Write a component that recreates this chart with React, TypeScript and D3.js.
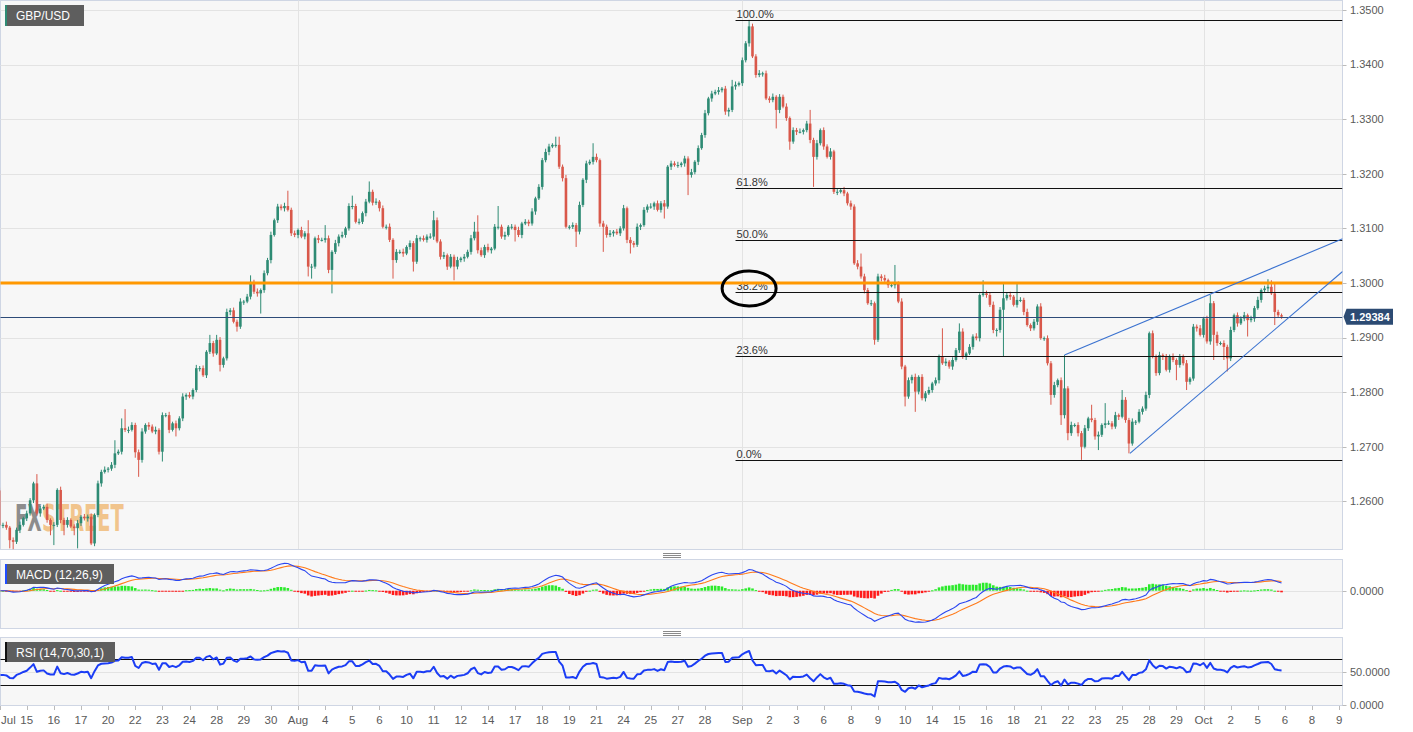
import React from "react";
import * as d3 from "d3";

// ---- price data (4H candles), values in pips: price = 1 + v / 10000 ----
const firstOpenPips = 2620;
const closePips = [
  2556,2557,2552,2529,2526,2548,2557,2569,2578,2602,
  2633,2578,2587,2590,2566,2557,2557,2621,2566,2557,
  2566,2554,2551,2560,2572,2569,2572,2523,2575,2633,
  2654,2658,2660,2667,2688,2691,2734,2731,2731,2740,
  2690,2676,2728,2740,2737,2728,2731,2691,2758,2758,
  2731,2743,2734,2752,2792,2795,2792,2804,2844,2844,
  2831,2874,2890,2871,2896,2850,2862,2947,2950,2929,
  2920,2966,2966,2975,3002,2984,2981,2987,3018,3042,
  3088,3115,3140,3137,3141,3134,3091,3088,3097,3085,
  3091,3030,3030,3082,3079,3079,3082,3024,3057,3073,
  3085,3088,3100,3141,3141,3112,3112,3128,3149,3167,
  3147,3149,3137,3103,3103,3079,3042,3057,3057,3054,
  3066,3073,3039,3082,3082,3079,3085,3085,3115,3076,
  3048,3051,3030,3048,3030,3042,3045,3048,3057,3082,
  3094,3060,3051,3066,3060,3063,3103,3103,3085,3088,
  3103,3103,3097,3088,3109,3112,3109,3131,3155,3176,
  3225,3240,3250,3253,3253,3213,3192,3103,3103,3106,
  3094,3143,3189,3219,3222,3231,3225,3109,3103,3088,
  3091,3094,3091,3100,3137,3079,3073,3070,3103,3106,
  3134,3140,3140,3146,3134,3146,3140,3213,3219,3216,
  3216,3219,3228,3198,3203,3222,3247,3271,3311,3338,
  3347,3350,3353,3356,3314,3317,3360,3363,3366,3408,
  3439,3470,3415,3381,3384,3384,3338,3335,3341,3317,
  3341,3323,3302,3259,3280,3277,3277,3280,3292,3262,
  3231,3256,3280,3250,3231,3241,3167,3167,3170,3164,
  3146,3140,3036,3030,3012,2987,2963,2963,2896,3012,
  3009,3005,2996,2996,2999,2966,2847,2792,2822,2828,
  2801,2828,2789,2798,2804,2816,2822,2865,2853,2856,
  2847,2859,2877,2911,2865,2871,2883,2902,2899,2978,
  2981,2978,2960,2914,2914,2951,2972,2978,2975,2960,
  2969,2969,2947,2923,2917,2929,2957,2899,2899,2853,
  2795,2813,2822,2758,2807,2725,2740,2740,2725,2700,
  2734,2752,2749,2719,2722,2740,2743,2743,2737,2758,
  2755,2786,2749,2706,2746,2746,2764,2770,2795,2908,
  2865,2835,2868,2865,2841,2865,2859,2850,2865,2853,
  2819,2825,2920,2917,2905,2935,2893,2963,2905,2890,
  2890,2883,2862,2914,2941,2926,2935,2941,2932,2935,
  2954,2969,2987,2990,2993,2981,2947,2941,2938.4,
];
const wickUpPips = [
  5,4,6,3,5,4,6,3,5,4, 3,17,5,4,6,3,5,3,6,4, 5,3,4,6,3,5,4,6,3,5, 4,6,3,5,24,4,18,35,6,5,
  4,5,6,3,5,4,6,3,5,4, 6,3,5,4,6,3,5,3,6,4, 5,3,15,4,9,5,3,6,4,5, 4,6,3,5,12,4,6,3,5,4,
  6,3,5,4,6,28,4,5,3,6, 4,24,5,3,6,4,24,5,3,6, 4,6,3,5,19,4,6,3,5,19, 4,6,3,5,4,6,3,5,4,6,
  3,5,4,6,3,5,4,6,17,5, 4,6,3,5,4,6,3,5,4,6, 18,30,5,4,6,3,5,38,4,6, 3,5,4,6,3,5,4,6,3,5,
  4,6,5,3,15,15,4,6,3,5, 4,6,3,5,4,25,6,3,5,4, 6,3,5,4,6,3,5,4,6,3, 5,4,6,3,5,4,6,3,5,4,
  6,3,5,4,6,3,5,4,6,3, 5,4,6,3,5,4,12,6,3,5, 4,12,5,4,6,3,5,4,6,3, 5,4,6,3,5,4,6,3,5,25,
  4,6,3,5,4,6,3,5,4,6, 3,5,4,6,24,5,4,6,3,5, 4,6,3,5,34,4,6,3,5,4, 6,3,5,4,6,3,5,4,52,6,
  3,5,4,15,6,3,5,4,6,3, 24,5,4,6,3,5,28,4,6,3, 31,5,4,6,3,5,4,6,3,5, 4,6,3,5,61,4,6,3,5,4,
  6,3,25,4,6,3,37,5,4,6, 3,18,5,4,6,3,5,4,6,3, 5,4,6,3,5,4,6,3,5,4, 6,3,5,4,6,3,5,15,4,6,
  3,5,4,6,3,5,4,6,3,5, 4,6,3,5,14,12,19,4,3,
];
const wickDownPips = [
  6,5,4,15,14,4,6,3,5,4, 5,4,6,3,5,19,37,4,6,19, 5,3,13,37,5,4,6,3,5,4, 6,3,5,4,6,3,5,4,6,3,
  10,31,5,4,6,3,5,5,18,4, 6,3,15,4,5,6,3,5,4,6, 3,5,4,6,3,12,5,4,6,3, 9,4,6,3,5,4,6,37,5,4,
  6,3,5,4,6,3,5,4,6,3, 5,18,22,4,6,3,5,6,43,4, 6,3,5,4,6,3,5,4,6,3, 5,4,6,3,5,4,34,5,4,6,
  3,5,18,4,6,3,5,4,6,3, 5,4,6,3,25,5,4,6,3,5, 4,6,3,5,4,6,3,5,4,6, 3,5,21,4,6,3,5,4,6,3,
  5,4,6,3,5,4,6,3,5,4, 28,5,4,6,3,5,4,6,46,5, 4,6,3,5,4,6,19,5,4,6, 3,5,4,6,3,5,22,4,6,3,
  5,4,6,37,5,4,6,3,5,4, 6,3,5,4,6,9,4,6,3,5, 4,6,3,5,4,6,3,5,4,34, 6,3,5,15,4,6,3,5,4,6,
  55,5,4,6,3,5,4,6,3,5, 4,6,3,5,4,6,3,5,9,4, 6,3,5,4,6,3,5,18,4,6, 37,5,4,6,3,5,4,6,3,5,
  4,6,3,5,4,6,3,5,4,6, 3,5,4,6,12,5,86,4,6,3, 5,4,6,3,5,4,6,3,5,4, 18,5,4,18,6,13,5,4,6,24,
  3,5,4,6,25,4,6,3,5,4, 6,3,5,18,4,6,3,5,4,6, 3,5,4,6,3,5,4,28,5,4, 15,5,4,6,3,5,4,6,46,5,
  4,24,24,5,4,6,3,5,30,4, 6,3,5,4,6,3,24,5,4,
];

// ---- axis ----
const tickIndex = [0,8,16,24,32,40,48,56,64,72,80,88,96,104,112,120,128,136,144,152,160,168,176,184,192,200,208,
  219,227,235,243,251,259,267,275,283,291,299,307,315,323,331,339,347,
  355,363,371,379,387,395];
const tickLabel = ["Jul","15","16","17","20","22","23","24","28","29","30","Aug","4","5","6","10","11","12","14","17","18","19","21","24","25","27","28",
  "Sep","2","3","6","8","9","10","14","15","16","18","21","22","23","25","28","29",
  "Oct","2","5","6","8","9"];
const monthIndex = [88, 219, 355];
const priceTicks = [1.26, 1.27, 1.28, 1.29, 1.30, 1.31, 1.32, 1.33, 1.34, 1.35];

// ---- annotations ----
const fibHigh = 1.3482;
const fibLow = 1.2676;
const fibRatios = [0, 0.236, 0.382, 0.5, 0.618, 1];
const fibLabels = ["0.0%", "23.6%", "38.2%", "50.0%", "61.8%", "100.0%"];
const fibStartIndex = 217;
const resistanceLevel = 1.3;
const lastPrice = 1.29384;
const upperTrend = [[314, 1.2868], [396, 1.3081]];
const lowerTrend = [[333.3, 1.2688], [396, 1.3021]];
const markCenter = [221, 1.2990];
const rsiSeed = { gain: 0.0010, loss: 0.0012 };
const rsiLevels = [30, 70];

const GREEN = "#2e8b74";
const RED = "#d9584a";
const FONT = "'Liberation Sans', Arial, sans-serif";

function ema(arr: number[], p: number) {
  const k = 2 / (p + 1);
  const out: number[] = [];
  arr.forEach((v, i) => out.push(i === 0 ? v : v * k + out[i - 1] * (1 - k)));
  return out;
}

export default function App() {
  const W = 1413, H = 732;
  const candles = closePips.map((c, i) => {
    const o = i === 0 ? firstOpenPips : closePips[i - 1];
    const hi = Math.max(o, c) + wickUpPips[i];
    const lo = Math.min(o, c) - wickDownPips[i];
    return { i, open: 1 + o / 1e4, close: 1 + c / 1e4, high: 1 + hi / 1e4, low: 1 + lo / 1e4 };
  });
  const closes = candles.map((d) => d.close);

  const x = d3.scaleLinear().domain([0, 395]).range([-0.4, 1339.2]);
  const y = d3.scaleLinear().domain([1.26, 1.35]).range([501.4, 10]);

  // MACD
  const e12 = ema(closes, 12), e26 = ema(closes, 26);
  const macd = e12.map((v, i) => v - e26[i]);
  const signal = ema(macd, 9);
  const hist = macd.map((v, i) => v - signal[i]);
  const allM = [...macd, ...signal, ...hist];
  const mMin = d3.min(allM)!, mMax = d3.max(allM)!;
  const ym = d3.scaleLinear().domain([mMin * 1.15, mMax * 1.05]).range([627, 562]);

  // RSI (Wilder)
  const rsi: number[] = [];
  let ag = rsiSeed.gain, al = rsiSeed.loss;
  closes.forEach((c, i) => {
    if (i > 0) {
      const ch = c - closes[i - 1];
      ag = (ag * 13 + Math.max(ch, 0)) / 14;
      al = (al * 13 + Math.max(-ch, 0)) / 14;
    }
    rsi.push(100 - 100 / (1 + ag / al));
  });
  const yr = d3.scaleLinear().domain([0, 100]).range([705, 639]);

  const lineM = d3.line<number>().x((_, i) => x(i)).y((v) => ym(v));
  const lineR = d3.line<number>().x((_, i) => x(i)).y((v) => yr(v));

  const PR = 1342.5;
  const main = { top: 0.5, bottom: 549.5 };
  const mp = { top: 559.5, bottom: 628.5 };
  const rp = { top: 637.5, bottom: 705.5 };
  const border = "#cfd6e4";
  const grid = "#e3e3e3";
  const axisText = "#5a5a5a";
  const bw = 2.6;
  const lp = y(lastPrice);

  const handle = (cy: number) => (
    <g stroke="#8a8a8a" strokeWidth={1}>
      {[-2, 0, 2].map((d) => (
        <line key={d} x1={663} x2={681} y1={cy + d + 0.5} y2={cy + d + 0.5} />
      ))}
    </g>
  );

  return (
    <svg width={W} height={H} style={{ display: "block", position: "absolute", left: 0, top: 0 }} fontFamily={FONT}>
      <defs>
        <clipPath id="clipMain"><rect x={0.5} y={0.5} width={PR - 0.5} height={549} /></clipPath>
        <clipPath id="clipM"><rect x={0.5} y={mp.top} width={PR - 0.5} height={mp.bottom - mp.top} /></clipPath>
        <clipPath id="clipR"><rect x={0.5} y={rp.top} width={PR - 0.5} height={rp.bottom - rp.top} /></clipPath>
      </defs>
      <rect x={0} y={0} width={W} height={H} fill="#ffffff" />

      {/* ===== main panel ===== */}
      <rect x={0.5} y={main.top} width={PR - 0.5} height={main.bottom - main.top} fill="#f7f7f7" stroke={border} />
      <g clipPath="url(#clipMain)">
        {priceTicks.map((p) => (
          <line key={p} x1={0} x2={PR} y1={Math.round(y(p)) + 0.5} y2={Math.round(y(p)) + 0.5} stroke={grid} />
        ))}
        {monthIndex.map((m) => (
          <line key={m} x1={Math.round(x(m)) + 0.5} x2={Math.round(x(m)) + 0.5} y1={0} y2={549} stroke={grid} />
        ))}
        {/* watermark */}
        <g fontSize={38} fontWeight="bold" fontFamily="'DejaVu Sans', sans-serif">
          <text transform="translate(15,531) scale(0.48,1)" fill="#8d8d8d">FX</text>
          <text transform="translate(42,531) scale(0.51,1)" fill="#f0b469" fillOpacity={0.75}>STREET</text>
        </g>

        {/* candles */}
        {candles.map((d) => {
          const cx = x(d.i);
          const up = d.close >= d.open;
          const col = up ? GREEN : RED;
          const yt = y(Math.max(d.open, d.close));
          const yb = y(Math.min(d.open, d.close));
          return (
            <g key={d.i}>
              <line x1={cx} x2={cx} y1={y(d.high)} y2={y(d.low)} stroke={col} strokeWidth={1} />
              <rect x={cx - bw / 2} y={yt} width={bw} height={Math.max(1, yb - yt)} fill={col} />
            </g>
          );
        })}

        {/* fib */}
        {fibRatios.map((r, k) => {
          const lv = fibLow + r * (fibHigh - fibLow);
          const yy = Math.round(y(lv)) + 0.5;
          return (
            <g key={r}>
              <line x1={x(fibStartIndex)} x2={PR} y1={yy} y2={yy} stroke="#111" strokeWidth={1} />
              <text x={x(fibStartIndex) + 1} y={yy - 2.5} fontSize={11} fill="#333">{fibLabels[k]}</text>
            </g>
          );
        })}

        {/* resistance */}
        <line x1={0} x2={PR} y1={y(resistanceLevel)} y2={y(resistanceLevel)} stroke="#ff9800" strokeWidth={3} />
        {/* last price */}
        <line x1={0} x2={PR} y1={Math.round(lp) + 0.5} y2={Math.round(lp) + 0.5} stroke="#2d4b78" strokeWidth={1} />
        {/* trend lines */}
        {[upperTrend, lowerTrend].map((t, k) => (
          <line key={k} x1={x(t[0][0])} y1={y(t[0][1])} x2={x(t[1][0])} y2={y(t[1][1])} stroke="#3a72d0" strokeWidth={1.1} />
        ))}
        {/* ellipse mark */}
        <ellipse cx={x(markCenter[0])} cy={y(markCenter[1])} rx={27} ry={17.5} fill="none" stroke="#000" strokeWidth={3} />
      </g>

      {/* symbol label */}
      <rect x={5} y={5} width={79} height={21} fill="#5e5e5e" />
      <rect x={5} y={5} width={2} height={21} fill="#2e8b74" />
      <text x={16} y={19.5} fontSize={12} fill="#ffffff">GBP/USD</text>

      {/* right price axis */}
      {priceTicks.map((p) => (
        <g key={p}>
          <line x1={PR} x2={PR + 4} y1={Math.round(y(p)) + 0.5} y2={Math.round(y(p)) + 0.5} stroke="#bbb" />
          <text x={1350} y={y(p)} dy="0.35em" fontSize={11} fill={axisText}>{p.toFixed(4)}</text>
        </g>
      ))}
      <polygon points={`${PR + 1},${lp} ${PR + 4},${lp - 8} ${1393},${lp - 8} ${1393},${lp + 8} ${PR + 4},${lp + 8}`} fill="#2c4b73" />
      <text x={1350} y={lp} dy="0.36em" fontSize={11} fontWeight="bold" fill="#ffffff">{lastPrice.toFixed(5)}</text>

      {handle(555)}

      {/* ===== MACD panel ===== */}
      <rect x={0.5} y={mp.top} width={PR - 0.5} height={mp.bottom - mp.top} fill="#f7f7f7" stroke={border} />
      <g clipPath="url(#clipM)">
        <line x1={0} x2={PR} y1={Math.round(ym(0)) + 0.5} y2={Math.round(ym(0)) + 0.5} stroke={grid} />
        {monthIndex.map((m) => (
          <line key={m} x1={Math.round(x(m)) + 0.5} x2={Math.round(x(m)) + 0.5} y1={mp.top} y2={mp.bottom} stroke={grid} />
        ))}
        {hist.map((h, i) => {
          const y0 = ym(0), y1 = ym(h);
          return (
            <rect key={i} x={x(i) - 1.3} y={Math.min(y0, y1)} width={2.6} height={Math.max(1, Math.abs(y1 - y0))}
              fill={h >= 0 ? "#2bea2b" : "#ff1a1a"} />
          );
        })}
        <path d={lineM(signal) || ""} fill="none" stroke="#ff7a1a" strokeWidth={1.1} />
        <path d={lineM(macd) || ""} fill="none" stroke="#2a46f0" strokeWidth={1.1} />
      </g>
      <rect x={5} y={564} width={109} height={20} fill="#5e5e5e" />
      <rect x={5} y={564} width={2} height={20} fill="#1f4cff" />
      <text x={16} y={578.5} fontSize={12} fill="#ffffff">MACD (12,26,9)</text>
      <line x1={PR} x2={PR + 4} y1={Math.round(ym(0)) + 0.5} y2={Math.round(ym(0)) + 0.5} stroke="#bbb" />
      <text x={1350} y={ym(0)} dy="0.35em" fontSize={11} fill={axisText}>0.0000</text>

      {handle(633)}

      {/* ===== RSI panel ===== */}
      <rect x={0.5} y={rp.top} width={PR - 0.5} height={rp.bottom - rp.top} fill="#f7f7f7" stroke={border} />
      <g clipPath="url(#clipR)">
        <line x1={0} x2={PR} y1={Math.round(yr(50)) + 0.5} y2={Math.round(yr(50)) + 0.5} stroke={grid} />
        {monthIndex.map((m) => (
          <line key={m} x1={Math.round(x(m)) + 0.5} x2={Math.round(x(m)) + 0.5} y1={rp.top} y2={rp.bottom} stroke={grid} />
        ))}
        {rsiLevels.map((l) => (
          <line key={l} x1={0} x2={PR} y1={Math.round(yr(l)) + 0.5} y2={Math.round(yr(l)) + 0.5} stroke="#111" strokeWidth={1} />
        ))}
        <path d={lineR(rsi) || ""} fill="none" stroke="#1b3df5" strokeWidth={2} strokeLinejoin="round" />
      </g>
      <rect x={5} y={642} width={110} height={20} fill="#5e5e5e" />
      <rect x={5} y={642} width={2} height={20} fill="#111" />
      <text x={16} y={656.5} fontSize={12} fill="#ffffff">RSI (14,70,30,1)</text>
      {[50, 0].map((v) => (
        <g key={v}>
          <line x1={PR} x2={PR + 4} y1={Math.round(yr(v)) + 0.5} y2={Math.round(yr(v)) + 0.5} stroke="#bbb" />
          <text x={1350} y={yr(v)} dy="0.35em" fontSize={11} fill={axisText}>{v.toFixed(4)}</text>
        </g>
      ))}

      {/* ===== time axis ===== */}
      {tickIndex.map((ti, k) => {
        const tx = x(ti);
        return (
          <g key={k}>
            <line x1={Math.round(tx) + 0.5} x2={Math.round(tx) + 0.5} y1={706} y2={710} stroke="#bbb" />
            <text x={k === 0 ? 1 : tx} y={724} fontSize={11.5} fill={axisText} textAnchor={k === 0 ? "start" : "middle"}>{tickLabel[k]}</text>
          </g>
        );
      })}
    </svg>
  );
}
